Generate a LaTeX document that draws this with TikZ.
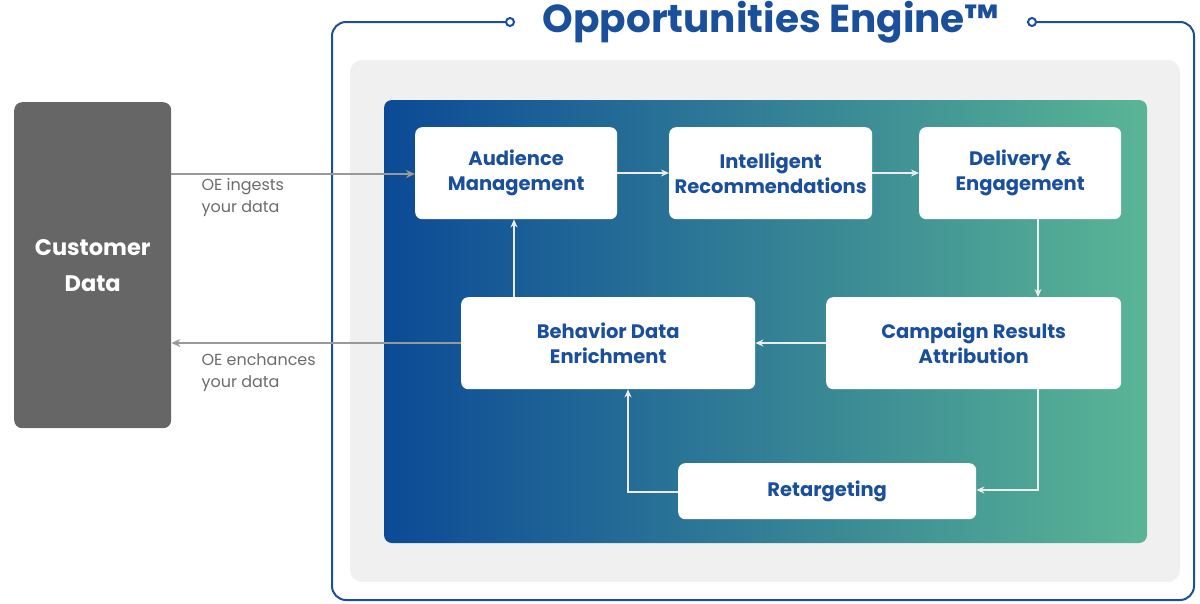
\documentclass[tikz,border=0pt]{standalone}
\usepackage{fontspec}
\setmainfont{Poppins}
\usetikzlibrary{arrows.meta}
\definecolor{oeblue}{HTML}{1A4F9C}
\definecolor{gl}{HTML}{0B4A96}
\definecolor{gr}{HTML}{5AB595}
\begin{document}
\begin{tikzpicture}[x=1pt,y=-1pt,
  box/.style={draw=none,fill=white,rounded corners=7pt,text=oeblue,font=\bfseries\fontsize{19.5}{25}\selectfont,align=center,anchor=north west},
  inarr/.style={draw=white!85!gray,line width=1.3pt,-{Stealth[length=8pt,width=7pt]}},
  outarr/.style={draw=gray!80,line width=1.5pt,-{Stealth[length=9pt,width=8pt]}},
  lbl/.style={text=gray!85!black,font=\fontsize{16}{22}\selectfont,align=left,anchor=north west}]
\useasboundingbox (0,0) rectangle (1200,603);
% outer frame
\draw[oeblue,line width=2pt,rounded corners=14pt] (332,22) rectangle (1194,600);
\fill[white] (514,8) rectangle (1028,36);
\draw[oeblue,line width=2pt,fill=white] (510,22) circle (4);
\draw[oeblue,line width=2pt,fill=white] (1032,22) circle (4);
\node[text=oeblue,font=\bfseries\fontsize{39}{42}\selectfont] (title) at (771,22) {Opportunities Engine™};
\fill[gray!12,rounded corners=12pt] (350,60) rectangle (1180,582);
\shade[left color=gl,right color=gr,rounded corners=8pt] (384,100) rectangle (1147,543);
% customer
\node[fill=gray!50!black!80,rounded corners=8pt,minimum width=157pt,minimum height=326pt,anchor=north west,text=white,font=\bfseries\fontsize{22.5}{36}\selectfont,align=center] (cust) at (14,102) {Customer\\Data};
\node[box,minimum width=202pt,minimum height=92pt] (aud) at (415,127) {Audience\\Management};
\node[box,minimum width=203pt,minimum height=92pt] (int) at (669,127) {Intelligent\\Recommendations};
\node[box,minimum width=202pt,minimum height=92pt] (del) at (919,127) {Delivery \&\\Engagement};
\node[box,minimum width=294pt,minimum height=92pt] (beh) at (461,297) {Behavior Data\\Enrichment};
\node[box,minimum width=295pt,minimum height=92pt] (camp) at (826,297) {Campaign Results\\Attribution};
\node[box,minimum width=298pt,minimum height=56pt] (ret) at (678,463) {Retargeting};
% arrows
\draw[outarr] (171,174) -- (aud.west|-0,174);
\draw[outarr] (beh.west|-0,343) -- (cust.east|-0,343);
\node[lbl] (l1) at (198,175) {OE ingests\\your data};
\node[lbl] (l2) at (198,350) {OE enchances\\your data};
\draw[inarr] (aud.east|-0,173) -- (int.west|-0,173);
\draw[inarr] (int.east|-0,173) -- (del.west|-0,173);
\draw[inarr] (del.south-|1038,0) -- (camp.north-|1038,0);
\draw[inarr] (camp.west|-0,343) -- (beh.east|-0,343);
\draw[inarr] (camp.south-|1038,0) |- (ret.east|-0,490);
\draw[inarr] (ret.west|-0,492) -| (beh.south-|628,0);
\draw[inarr] (beh.north-|514,0) -- (aud.south-|514,0);
\end{tikzpicture}
\end{document}
